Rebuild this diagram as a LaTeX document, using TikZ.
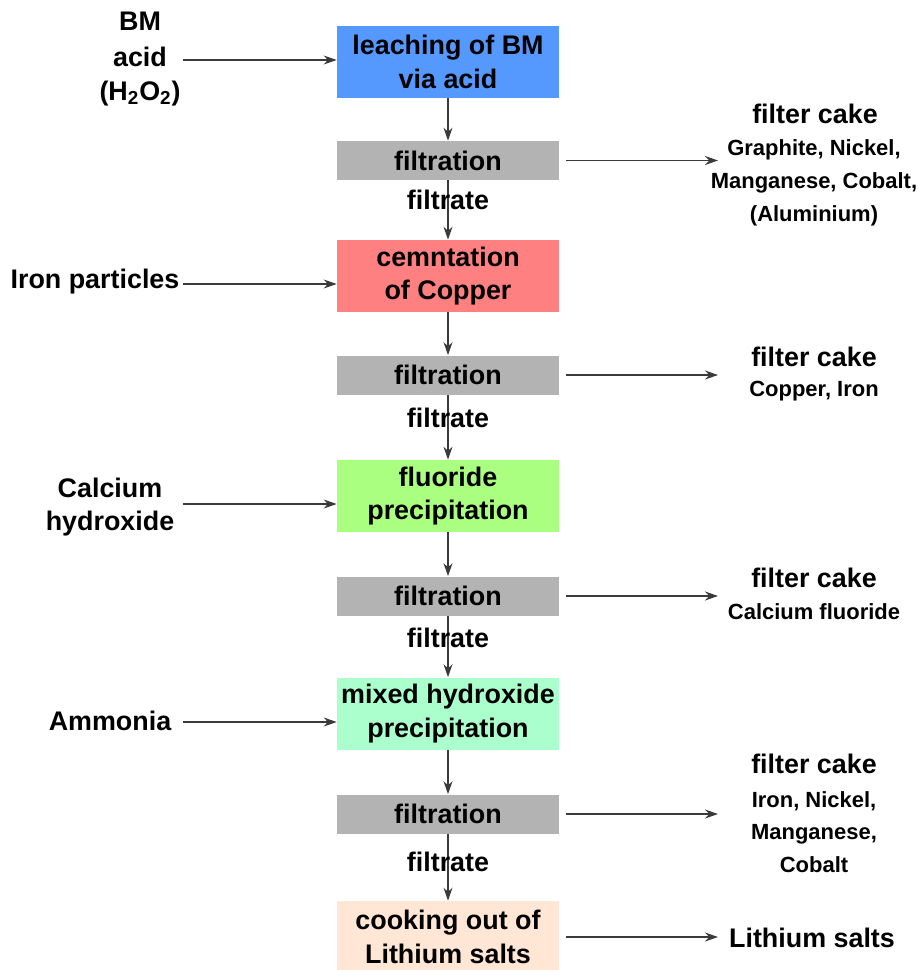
\documentclass[tikz,border=0pt]{standalone}
\usepackage{fontspec}
\setmainfont{Liberation Sans}
\usetikzlibrary{arrows.meta}

\definecolor{leachblue}{HTML}{5599FF}
\definecolor{cementred}{HTML}{FF8080}
\definecolor{fluorgreen}{HTML}{AAFF80}
\definecolor{hydroxmint}{HTML}{AAFFCC}
\definecolor{lithpeach}{HTML}{FFE6D5}
\definecolor{filtgray}{HTML}{B3B3B3}
\definecolor{linegray}{HTML}{3A3A3A}

\tikzset{
    bigtxt/.style={font=\fontsize{15.3}{19.3}\selectfont\bfseries},
    smalltxt/.style={font=\fontsize{12.5}{18.7}\selectfont\bfseries},
    stage/.style={bigtxt, align=center, minimum width=4.44cm, minimum height=1.44cm, inner sep=0pt},
    filtbox/.style={bigtxt, fill=filtgray, minimum width=4.44cm, minimum height=0.78cm, inner sep=0pt},
    flow/.style={-{Stealth[length=0.26cm,width=0.18cm]}, line width=0.7pt, draw=linegray},
    sideflow/.style={flow, shorten <=0.14cm}
}

\begin{document}
\begin{tikzpicture}[x=0.02cm, y=-0.02cm]
        \useasboundingbox (0,0) rectangle (917,970);
        \node[stage, fill=leachblue] (box1) at (448,62) {leaching of BM\\via acid};
        \node[stage, fill=cementred] (box2) at (448,276) {cemntation\\of Copper};
        \node[stage, fill=fluorgreen] (box3) at (448,496) {fluoride\\precipitation};
        \node[stage, fill=hydroxmint] (box4) at (448,713.5) {mixed hydroxide\\precipitation};
        \node[stage, fill=lithpeach] (box5) at (448,937) {cooking out of\\Lithium salts};
        \foreach \i/\y in {1/160.5,2/375,3/596,4/814} \node[filtbox] (filt\i) at (448,\y) {filtration};
        \foreach \i/\j in {1/2,2/3,3/4,4/5} {
            \draw[flow] (box\i) -- (filt\i);
            \draw[flow] (filt\i) -- (box\j);
        }
        \foreach \i/\y in {1/200,2/418,3/638,4/862} \node[bigtxt] (frate\i) at (448,\y) {filtrate};

        \node[bigtxt, align=center] (in1) at (140,59) {BM\\[1pt]acid\\(H\textsubscript{2}O\textsubscript{2})};
        \node[bigtxt] (in2) at (95,282) {Iron particles};
        \node[bigtxt, align=center] (in3) at (110,507) {Calcium\\hydroxide};
        \node[bigtxt] (in4) at (110,721) {Ammonia};
        \foreach \i/\y in {1/60,2/284,3/504,4/722} {
            \coordinate (src\i) at (183,\y);
            \draw[flow] (src\i) -- (src\i -| box\i.west);
        }

        \coordinate (right) at (718,0);
        \foreach \i in {1,...,4} \draw[sideflow] (filt\i.east) -- (filt\i -| right);
        \draw[sideflow] (box5.east) -- (box5 -| right);
        \node[bigtxt] (cake1) at (815,114) {filter cake};
        \node[smalltxt, align=center] (res1) at (814,183) {Graphite, Nickel,\\Manganese, Cobalt,\\(Aluminium)};
        \node[bigtxt] (cake2) at (814,357) {filter cake};
        \node[smalltxt] (res2) at (814,391) {Copper, Iron};
        \node[bigtxt] (cake3) at (814,578) {filter cake};
        \node[smalltxt] (res3) at (814,612) {Calcium fluoride};
        \node[bigtxt] (cake4) at (814,764) {filter cake};
        \node[smalltxt, align=center] (res4) at (814,832) {Iron, Nickel,\\Manganese,\\Cobalt};
        \node[bigtxt] (lith) at (812,938) {Lithium salts};
\end{tikzpicture}
\end{document}
